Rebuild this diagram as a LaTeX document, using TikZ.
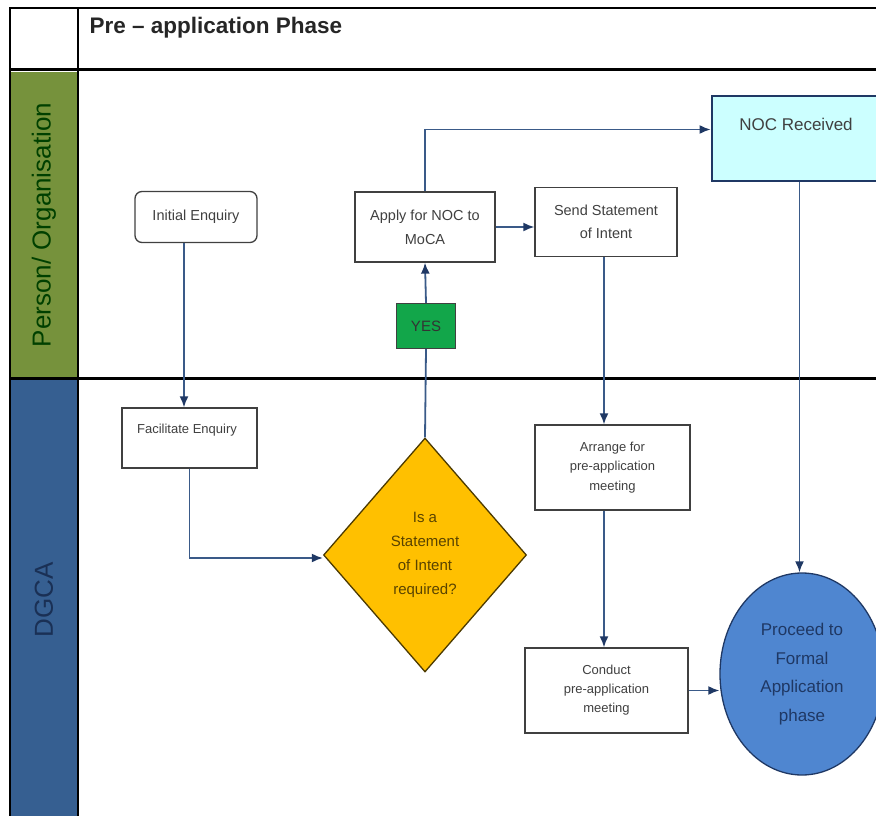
\documentclass[tikz,border=0pt]{standalone}
\usepackage{fontspec}
\setmainfont{Liberation Sans}
\usepackage{xcolor}
\usetikzlibrary{shapes.geometric, arrows.meta}
\definecolor{lanegreen}{HTML}{76923C}
\definecolor{laneblue}{HTML}{365F91}
\definecolor{flownavy}{HTML}{1F3864}
\definecolor{flowline}{HTML}{3A5A88}
\definecolor{yesgreen}{HTML}{12A64A}
\definecolor{askyellow}{HTML}{FFC000}
\definecolor{nocfill}{HTML}{CCFFFF}
\definecolor{endblue}{HTML}{4F86D0}
\definecolor{boxtext}{HTML}{404040}
\tikzset{
    plain-box/.style = {draw=black!75, fill=white, line width=1.3pt, rectangle, align=center, text=boxtext, inner sep=2pt},
    round-box/.style = {plain-box, rounded corners=7pt},
    flow-arrow/.style = {draw=flowline, line width=1.8pt, -{Latex[length=11pt, width=9pt, color=flownavy]}},
    flow-line/.style = {draw=flowline, line width=1.8pt},
    lane-line/.style = {draw=black, line width=3pt},
}
\begin{document}
\begin{tikzpicture}[x=1pt, y=-1pt]
\useasboundingbox (0,0) rectangle (876,816);
% swimlanes
\fill[lanegreen] (10,72) rectangle (78,377);
\fill[laneblue] (10,380) rectangle (78,816);
\draw[line width=1.3pt] (10,816) -- (10,8) -- (876,8);
\draw[line width=1.3pt] (78,8) -- (78,816);
\draw[lane-line] (10,70) -- (876,70);
\draw[lane-line] (10,378) -- (876,378);
\node[anchor=west, font=\fontsize{22.5}{26}\selectfont\bfseries, text=black!85] (phase) at (86,28) {Pre -- application Phase};
\node[rotate=90, font=\fontsize{26}{30}\selectfont, text=black!75!green] (lane-person) at (44,225) {Person/ Organisation};
\node[rotate=90, font=\fontsize{26}{30}\selectfont, text=flownavy!85!black] (lane-dgca) at (44,600) {DGCA};

% person / organisation lane
\node[round-box, minimum width=122pt, minimum height=51pt, font=\fontsize{14.5}{17}\selectfont] (initial) at (196,217) {Initial Enquiry};
\node[plain-box, minimum width=140pt, minimum height=70pt, font=\fontsize{14.5}{24}\selectfont] (apply) at (425,227) {Apply for NOC to\\MoCA};
\node[plain-box, minimum width=142pt, minimum height=69pt, font=\fontsize{14.5}{23}\selectfont] (send) at (606,222) {Send Statement\\of Intent};
\node[plain-box, draw=flownavy, line width=2.8pt, fill=nocfill, minimum width=175pt, minimum height=85pt] (noc) at (799.5,138.5) {};
\node[font=\fontsize{17}{20}\selectfont, text=boxtext] (noc-text) at (796,124) {NOC Received};
\node[plain-box, fill=yesgreen, text=black!80, minimum width=59pt, minimum height=45pt, font=\fontsize{15}{18}\selectfont] (yes) at (426,326) {YES};

% dgca lane
\node[plain-box, minimum width=135pt, minimum height=60pt] (facilitate) at (189.5,438) {};
\node[font=\fontsize{13}{15}\selectfont, text=boxtext] (facilitate-text) at (187,430) {Facilitate Enquiry};
\node[diamond, draw=black!70!askyellow, line width=1.3pt, fill=askyellow, minimum width=203pt, minimum height=234pt, inner sep=0pt, align=center, text=black!65!askyellow, font=\fontsize{15}{24}\selectfont] (ask) at (425,555) {Is a\\Statement\\of Intent\\required?};
\node[plain-box, minimum width=155pt, minimum height=85pt, font=\fontsize{13}{19.5}\selectfont] (arrange) at (612.5,467.5) {Arrange for\\pre-application\\meeting};
\node[plain-box, minimum width=163pt, minimum height=85pt, font=\fontsize{13}{19}\selectfont] (conduct) at (606.5,690.5) {Conduct\\pre-application\\meeting};
\node[ellipse, draw=flownavy, line width=1.3pt, fill=endblue, minimum width=164pt, minimum height=202pt, align=center, text=flownavy, font=\fontsize{17}{28.5}\selectfont] (proceed) at (802,674) {Proceed to\\Formal\\Application\\phase};

% connectors
\draw[flow-arrow] ([xshift=-12pt]initial.south) -- ([xshift=-5.5pt]facilitate.north);
\draw[flow-arrow] (facilitate.south) |- ([yshift=-3pt]ask.west);
\draw[flow-line] (ask.north) -- (yes.south);
\draw[flow-arrow] (yes.north) -- (apply.south);
\draw[flow-arrow] (apply.north) |- ([yshift=9pt]noc.west);
\draw[flow-arrow] (apply.east) -- (apply.east -| send.west);
\draw[flow-arrow] ([xshift=-2pt]send.south) -- ([xshift=-2pt]send.south |- arrange.north);
\draw[flow-arrow] ([xshift=-2pt]arrange.south -| send.south) -- ([xshift=-2pt]conduct.north -| send.south);
\draw[flow-arrow] (conduct.east) -- (conduct.east -| proceed.west);
\draw[flow-arrow] (noc.south) -- (noc.south |- proceed.north);
\end{tikzpicture}
\end{document}
